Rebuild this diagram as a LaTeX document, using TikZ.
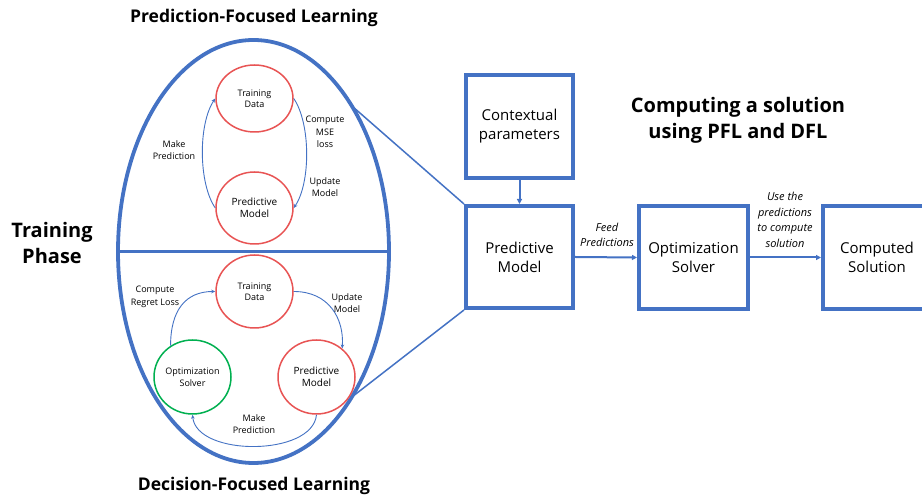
\documentclass[tikz,border=0pt]{standalone}
\usepackage{fontspec}
\setmainfont{Open Sans}
\usetikzlibrary{shapes.geometric,arrows.meta}
\definecolor{frameblue}{RGB}{68,114,196}
\definecolor{datared}{RGB}{232,84,84}
\definecolor{solvegreen}{RGB}{0,176,80}
\tikzset{
  x=1pt, y=1pt,
  bubble/.style={ellipse, draw=datared, line width=1.5pt, inner sep=0pt,
    minimum width=77pt, minimum height=73pt, align=center,
    font=\fontsize{9}{11.5}\selectfont},
  greenbubble/.style={bubble, draw=solvegreen},
  stagebox/.style={rectangle, draw=frameblue, line width=4pt, inner sep=0pt,
    minimum width=107pt, minimum height=102pt, align=center,
    font=\fontsize{15}{19}\selectfont},
  loop/.style={draw=frameblue, line width=0.9pt, -{Stealth[length=4pt,width=3.5pt]}},
  flow/.style={draw=frameblue, line width=2pt, -{Triangle[length=5pt,width=5pt]}},
  zoomline/.style={draw=frameblue, line width=1.5pt},
  small/.style={align=center, font=\fontsize{9}{12.5}\selectfont},
  edgelabel/.style={align=center, font=\fontsize{11}{15.5}\selectfont\itshape},
  heading/.style={align=center, font=\fontsize{17.5}{20}\selectfont\bfseries},
  bigheading/.style={align=center, font=\fontsize{20}{25.5}\selectfont\bfseries},
}
\begin{document}
\begin{tikzpicture}
\useasboundingbox (0,0) rectangle (922,497);
\fill[white] (0,0) rectangle (922,497);

% training phase: split ellipse
\node[ellipse, draw=frameblue, line width=3.8pt, inner sep=0pt, outer sep=0pt,
      minimum width=271pt, minimum height=423pt] (E) at (253.5,245.5) {};
\draw[draw=frameblue, line width=3.5pt] (E.west) -- (E.east);

\node[heading] (pfl) at (254,479) {Prediction-Focused Learning};
\node[heading] (dfl) at (254,11) {Decision-Focused Learning};
\node[bigheading] (phase) at (52,254) {Training\\Phase};

% prediction-focused loop
\node[bubble, minimum height=67pt] (TD1) at (254.5,398.5) {Training\\Data};
\node[bubble, minimum height=72pt, font=\fontsize{10}{12.5}\selectfont] (PM1) at (254.5,289) {Predictive\\Model};
\draw[loop] (TD1.east) .. controls +(17,-25) and +(17,25) .. (PM1.east);
\draw[loop] (PM1.west) .. controls +(-17,25) and +(-17,-25) .. (TD1.west);
\node[small] (l1) at (174,347) {Make\\Prediction};
\node[small] (l2) at (325,365) {Compute\\MSE\\loss};
\node[small] (l3) at (325,310) {Update\\Model};

% decision-focused loop
\node[bubble] (TD2) at (254.5,205.5) {Training\\Data};
\node[greenbubble, minimum height=74pt] (OS) at (192.5,120) {Optimization\\Solver};
\node[bubble, minimum height=74pt, font=\fontsize{10}{12.5}\selectfont] (PM2) at (316.5,120) {Predictive\\Model};
\draw[loop] (OS.125) .. controls +(0,35) and +(-30,0) .. (TD2.west);
\draw[loop] (TD2.east) .. controls +(35,0) and +(2,30) .. (PM2.48);
\draw[loop] (PM2.south) .. controls +(-4,-42) and +(4,-42) .. (OS.south);
\node[small] (l4) at (155,200) {Compute\\Regret Loss};
\node[small] (l5) at (347,194) {Update\\Model};
\node[small] (l6) at (254,73) {Make\\Prediction};

% inference pipeline
\node[bigheading] (title) at (738,376.5) {Computing a solution\\using PFL and DFL};
\node[stagebox, minimum height=103pt] (CP) at (519.5,370.5) {Contextual\\parameters};
\node[stagebox] (PM) at (519.5,240) {Predictive\\Model};
\node[stagebox, minimum width=109pt, minimum height=103pt] (OSB) at (693.5,239.5) {Optimization\\Solver};
\node[stagebox, minimum width=108pt, minimum height=103pt] (CS) at (877,239.5) {Computed\\Solution};

\draw[flow] (CP.south) -- (PM.north);
\draw[flow] (PM.east) -- (OSB.west);
\draw[flow] (OSB.east) -- (CS.west);
\node[edgelabel] (feed) at (607,262) {Feed\\Predictions};
\node[edgelabel] (use) at (785,277) {Use the\\predictions\\to compute\\solution};

% zoom lines from the ellipse to the model
\draw[zoomline] (E.56) -- (PM.north west);
\draw[zoomline] (E.-56) -- (PM.south west);
\end{tikzpicture}
\end{document}
